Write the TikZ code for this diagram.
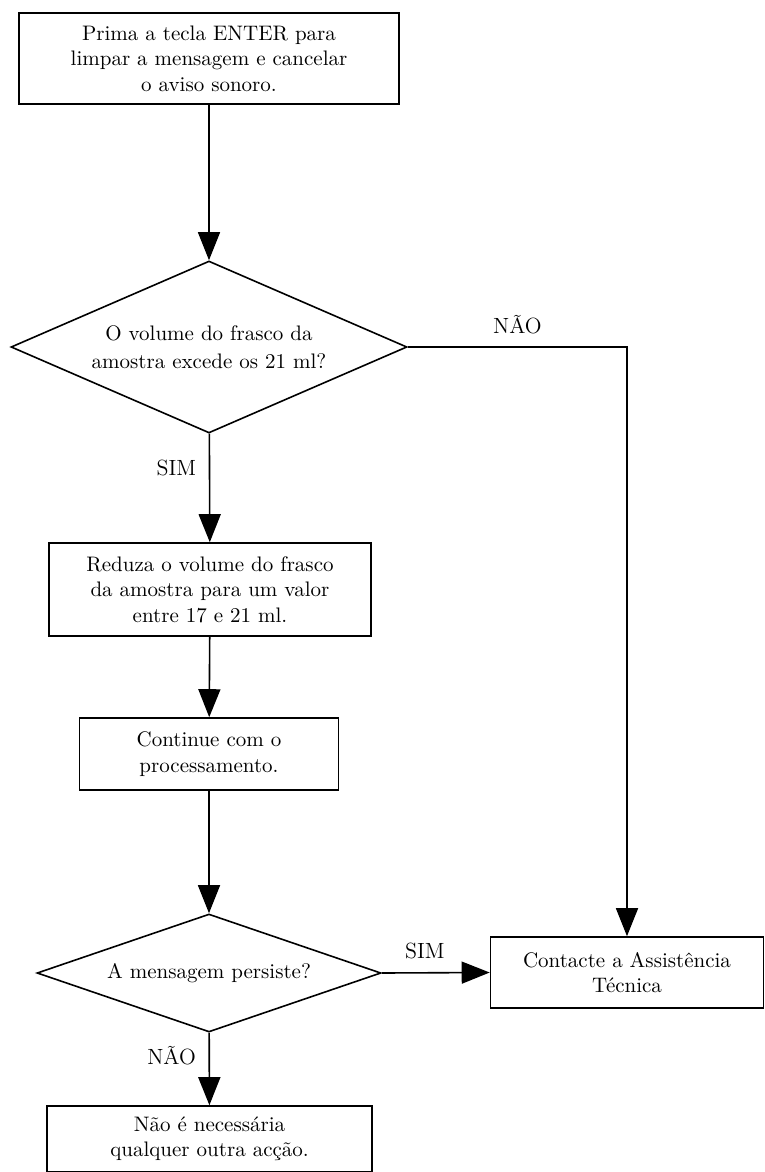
\documentclass[tikz,border=0pt]{standalone}
\usetikzlibrary{arrows.meta,shapes.geometric}

\begin{document}
\begin{tikzpicture}[x=0.5pt,y=-0.5pt,
    line width=0.8pt,
    txt/.style={font=\fontsize{10.5}{12.75}\selectfont},
    box/.style={draw,rectangle,txt,align=center,inner sep=0pt},
    decision/.style={draw,diamond,font=\fontsize{10.5}{14}\selectfont,align=center,inner sep=0pt},
    flow/.style={-{Triangle[length=14pt,width=11pt]}},
    lbl/.style={font=\fontsize{11}{13}\selectfont}]
    \useasboundingbox (0,0) rectangle (765,1172);
    % main column
    \node[box,minimum width=190pt,minimum height=45.5pt] (prima) at (209,58.5)
      {Prima a tecla ENTER para\\limpar a mensagem e cancelar\\o aviso sonoro.};
    \node[decision,aspect=2.3,minimum width=198pt,minimum height=86pt] (volume) at (209,347)
      {O volume do frasco da\\amostra excede os 21 ml?};
    \node[box,minimum width=161pt,minimum height=46.5pt] (reduza) at (210,589.5)
      {Reduza o volume do frasco\\da amostra para um valor\\entre 17 e 21 ml.};
    \node[box,minimum width=129.5pt,minimum height=36pt] (continua) at (209,754)
      {Continue com o\\processamento.};
    \node[decision,aspect=2.9,minimum width=172pt,minimum height=59pt] (persiste) at (209,973)
      {A mensagem persiste?};
    \node[box,minimum width=162.5pt,minimum height=33pt] (fim) at (209.5,1139)
      {N\~ao \'e necess\'aria\\qualquer outra ac\c{c}\~ao.};
    % right column
    \node[box,minimum width=136.5pt,minimum height=35.5pt] (contacte) at (627,972.5)
      {Contacte a Assist\^encia\\T\'ecnica};
    % connectors
    \draw[flow] (prima) -- (volume);
    \draw[flow] (volume) -- node[lbl,left=3pt,pos=0.32] {SIM} (reduza);
    \draw[flow] (volume.east) -| node[lbl,above=3pt,pos=0.25] {N\~AO} (contacte.north);
    \draw[flow] (reduza) -- (continua);
    \draw[flow] (continua) -- (persiste);
    \draw[flow] (persiste.east) -- node[lbl,above=3pt,pos=0.4] {SIM} (contacte.west);
    \draw[flow] (persiste) -- node[lbl,left=3pt,pos=0.32] {N\~AO} (fim);
  \end{tikzpicture}
\end{document}
